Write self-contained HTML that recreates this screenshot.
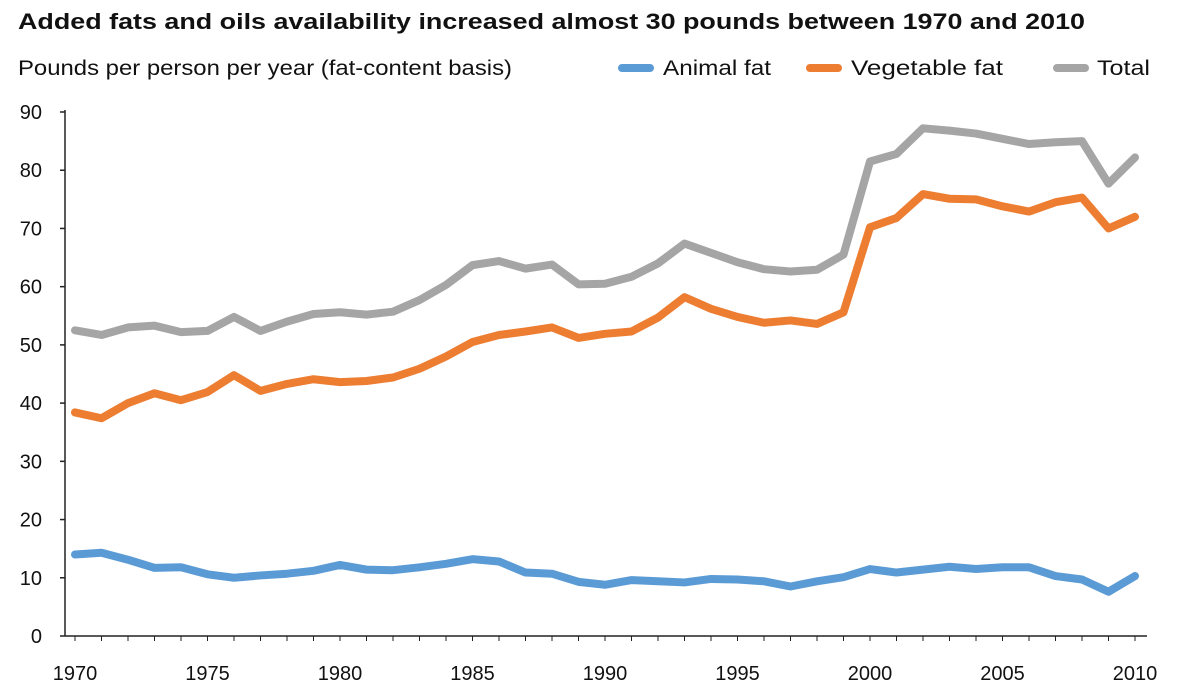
<!DOCTYPE html>
<html><head><meta charset="utf-8"><style>
body{margin:0;background:#fff;font-family:"Liberation Sans",Arial,sans-serif;}
svg{display:block}
</style></head><body>
<svg width="1190" height="700" id="chart">
<text x="18" y="29" font-size="22" font-weight="bold" fill="#111" textLength="1067" lengthAdjust="spacingAndGlyphs">Added fats and oils availability increased almost 30 pounds between 1970 and 2010</text>
<text x="18" y="75" font-size="21" fill="#111" textLength="494" lengthAdjust="spacingAndGlyphs">Pounds per person per year (fat-content basis)</text>
<g>
<line x1="622" y1="68" x2="650" y2="68" stroke="#5b9bd5" stroke-width="8" stroke-linecap="round"/>
<text x="663" y="75" font-size="21" fill="#111" textLength="108" lengthAdjust="spacingAndGlyphs">Animal fat</text>
<line x1="810" y1="68" x2="838" y2="68" stroke="#ed7d31" stroke-width="8" stroke-linecap="round"/>
<text x="851" y="75" font-size="21" fill="#111" textLength="152" lengthAdjust="spacingAndGlyphs">Vegetable fat</text>
<line x1="1057" y1="68" x2="1085" y2="68" stroke="#a5a5a5" stroke-width="8" stroke-linecap="round"/>
<text x="1097" y="75" font-size="21" fill="#111" textLength="53" lengthAdjust="spacingAndGlyphs">Total</text>
</g>
<g id="axes"></g>
<g id="series"></g>
</svg>
<script>
const years=[];for(let y=1970;y<=2010;y++)years.push(y);
const total=[52.5,51.7,53,53.3,52.2,52.4,54.8,52.4,54,55.3,55.6,55.2,55.7,57.7,60.3,63.7,64.4,63.1,63.8,60.4,60.5,61.7,64,67.4,65.8,64.2,63,62.6,62.9,65.5,81.5,82.8,87.2,86.8,86.3,85.4,84.5,84.8,85,77.7,82.2];
const vegetable=[38.4,37.4,40,41.7,40.5,41.9,44.8,42.1,43.3,44.1,43.6,43.8,44.4,45.9,48,50.5,51.7,52.3,53,51.2,51.9,52.3,54.7,58.2,56.2,54.8,53.8,54.2,53.6,55.6,70.2,71.8,75.9,75.1,75,73.8,72.9,74.5,75.3,70,72];
const animal=[14,14.3,13.1,11.7,11.8,10.6,10.0,10.4,10.7,11.2,12.2,11.4,11.3,11.8,12.4,13.2,12.8,10.9,10.7,9.3,8.8,9.6,9.4,9.2,9.8,9.7,9.4,8.5,9.4,10.1,11.5,10.9,11.4,11.9,11.5,11.8,11.8,10.3,9.7,7.6,10.3];
const yTicks=[0,10,20,30,40,50,60,70,80,90];
const xLabels=[1970,1975,1980,1985,1990,1995,2000,2005,2010];
const NS="http://www.w3.org/2000/svg";
const X=y=>75+(y-1970)*(1135-75)/40;
const Y=v=>636-v*(636-112)/90;
function mk(tag,attrs,parent){const e=document.createElementNS(NS,tag);for(const k in attrs)e.setAttribute(k,attrs[k]);parent.appendChild(e);return e;}
const ax=document.getElementById('axes');
const yl=mk('line',{x1:65,y1:Y(90)-2,x2:65,y2:636,stroke:'#222','stroke-width':1.5},ax);


const xl=mk('line',{x1:65,y1:636,x2:1147,y2:636,stroke:'#222','stroke-width':1.5},ax);


yTicks.forEach(v=>{
  const t=mk('text',{x:42,y:Y(v)+7,'font-size':20,'text-anchor':'end',fill:'#111'},ax);t.textContent=v;
  
  
  mk('line',{x1:60,y1:Y(v),x2:65,y2:Y(v),stroke:'#222','stroke-width':1.5},ax);
});
years.forEach(y=>{mk('line',{x1:X(y),y1:636,x2:X(y),y2:641,stroke:'#222','stroke-width':1},ax);});
xLabels.forEach(y=>{
  const t=mk('text',{x:X(y),y:680,'font-size':20,'text-anchor':'middle',fill:'#111'},ax);t.textContent=y;
  
  
});
const sg=document.getElementById('series');
function line(data,color,name){
  const p=mk('polyline',{points:data.map((v,i)=>X(years[i])+','+Y(v)).join(' '),fill:'none',stroke:color,'stroke-width':8,'stroke-linejoin':'round','stroke-linecap':'round'},sg);
  
  
}
line(total,'#a5a5a5','total-line');
line(vegetable,'#ed7d31','vegetable-fat-line');
line(animal,'#5b9bd5','animal-fat-line');
</script>
</body></html>
